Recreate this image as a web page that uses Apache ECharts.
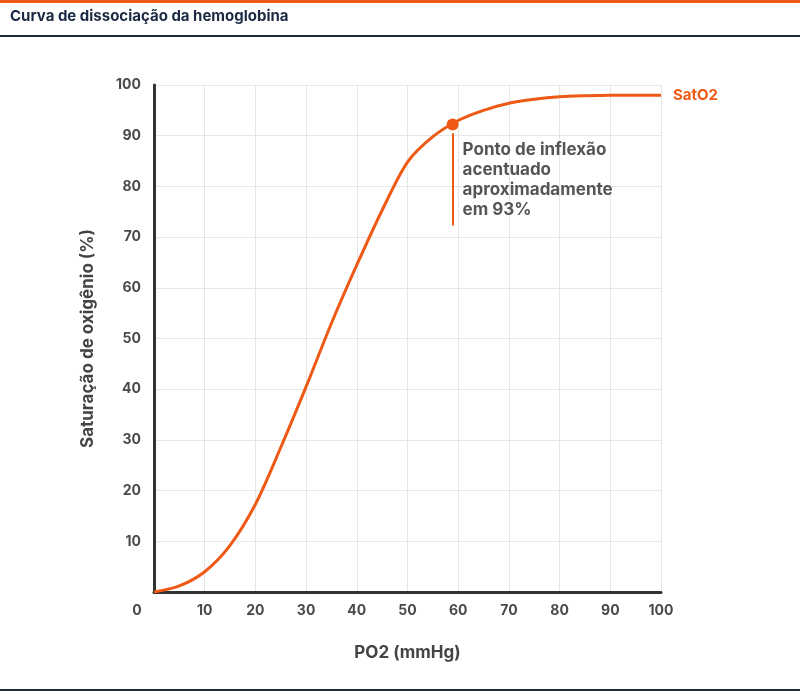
<!DOCTYPE html>
<html><head><meta charset="utf-8">
<script src="https://cdn.jsdelivr.net/npm/echarts@6/dist/echarts.min.js"></script>
<style>
html,body{margin:0;padding:0;background:#fff;}
#c{width:800px;height:694px;}
</style></head>
<body><div id="c"></div>
<script>
const po2 = [0, 5, 10, 15, 20, 25, 30, 35, 40, 45, 50, 55, 60, 65, 70, 75, 80, 85, 90, 95, 100];
const sat = [0, 1.2, 4.0, 9.2, 17.3, 28.5, 40.5, 53, 64.5, 75.3, 84.8, 89.8, 93, 95, 96.4, 97.2, 97.7, 97.9, 98, 98, 98];
const xTicks = [0,10,20,30,40,50,60,70,80,90,100];
const inflection = [58.9, 92.2];
const annotation = 'Ponto de inflexão\nacentuado\naproximadamente\nem 93%';
const orange = '#EE5A16';
const chart = echarts.init(document.getElementById('c'));
chart.setOption({
  animation:false,
  textStyle:{fontFamily:'Inter'},
  title:{text:'Curva de dissociação da hemoglobina', left:10, top:9, padding:0,
    textStyle:{fontFamily:'Inter',fontSize:15,fontWeight:'bold',color:'#1b2a42'}},
  graphic:[
    {type:'rect',shape:{x:0,y:0,width:800,height:3},style:{fill:orange}},
    {type:'rect',shape:{x:0,y:35,width:800,height:2},style:{fill:'#1e2d40'}},
    {type:'rect',shape:{x:0,y:689,width:800,height:2},style:{fill:'#1e2d40'}}
  ],
  grid:{left:154,right:139,top:85,bottom:102},
  xAxis:{type:'value',min:0,max:100,interval:10,
    name:'PO2 (mmHg)',nameLocation:'middle',nameGap:52,
    nameTextStyle:{fontFamily:'Inter',fontSize:17,fontWeight:'bold',color:'#444'},
    axisLine:{lineStyle:{color:'#333',width:3}},
    axisTick:{show:false},
    axisLabel:{margin:12,fontSize:14,fontWeight:'bold',color:'#4a4a4a',
      formatter:v=> v===0 ? '{o|0}' : String(v),
      rich:{o:{fontFamily:'Inter',fontSize:14,fontWeight:'bold',color:'#4a4a4a',padding:[0,34,0,0]}}},
    splitLine:{show:true,lineStyle:{color:'#e6e6e6',width:1}}
  },
  yAxis:{type:'value',min:0,max:100,interval:10,
    name:'Saturação de oxigênio (%)',nameLocation:'middle',nameGap:58,
    nameTextStyle:{fontFamily:'Inter',fontSize:17,fontWeight:'bold',color:'#444'},
    axisLine:{show:true,lineStyle:{color:'#333',width:3}},
    axisTick:{show:false},
    axisLabel:{margin:13,fontSize:14,fontWeight:'bold',color:'#4a4a4a',
      formatter:v=> v===0 ? '' : String(v)},
    splitLine:{show:true,lineStyle:{color:'#e6e6e6',width:1}}
  },
  series:[{
    type:'line',
    data:po2.map((x,i)=>[x,sat[i]]),
    smooth:0.3,
    showSymbol:false,
    lineStyle:{color:orange,width:3},
    itemStyle:{color:orange},
    endLabel:{show:true,formatter:'SatO2',color:orange,fontSize:15,fontWeight:'bold',fontFamily:'Inter',offset:[4,0]},
    markPoint:{
      silent:true,
      data:[
        {coord:inflection,symbol:'circle',symbolSize:12,itemStyle:{color:orange},label:{show:false}},
        {coord:[inflection[0],90.5],symbol:'rect',symbolSize:0,
          label:{show:true,position:'right',distance:0,offset:[10,47],formatter:annotation,
            align:'left',verticalAlign:'middle',
            color:'#555',fontSize:17,fontWeight:'bold',fontFamily:'Inter',lineHeight:20}}
      ]
    },
    markLine:{
      silent:true,symbol:'none',label:{show:false},
      lineStyle:{color:orange,width:2,type:'solid'},
      data:[[{coord:[inflection[0],90.5]},{coord:[inflection[0],72.3]}]]
    }
  }]
});
</script></body></html>
